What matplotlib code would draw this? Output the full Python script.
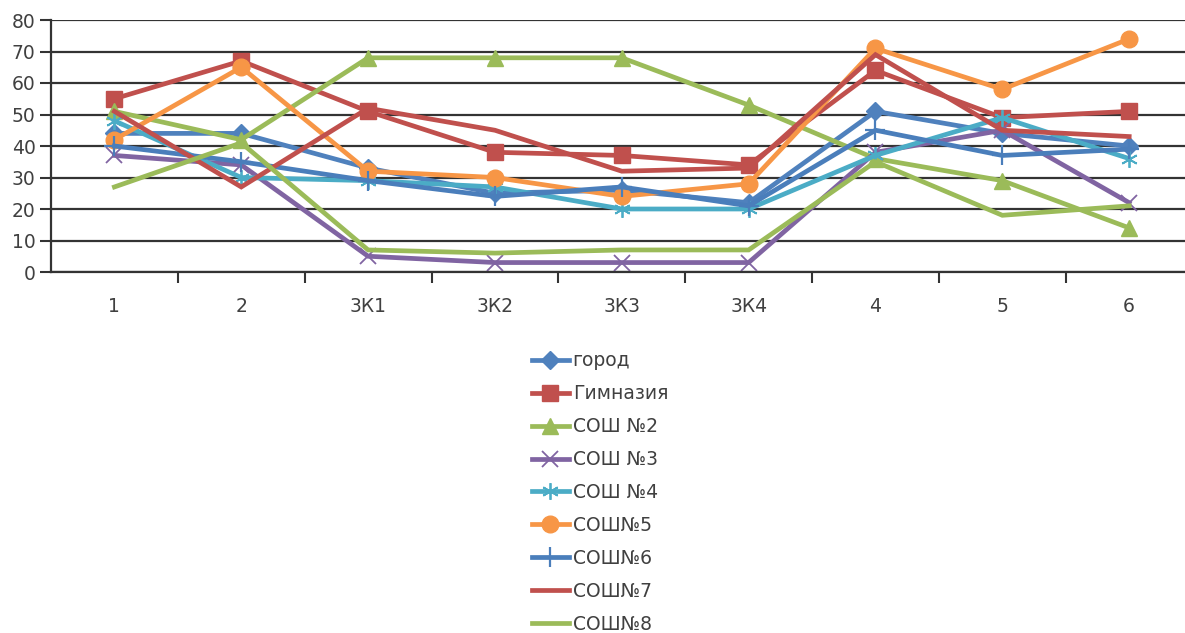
import matplotlib
matplotlib.use('Agg')
import matplotlib.pyplot as plt
import numpy as np

plt.rcParams['font.family'] = ['DejaVu Sans']

# categories and series values
categories = ['1', '2', '3К1', '3К2', '3К3', '3К4', '4', '5', '6']

gorod = [44, 44, 33, 25, 26, 22, 51, 44, 40]
gimnazia = [55, 67, 51, 38, 37, 34, 64, 49, 51]
sosh2 = [51, 42, 68, 68, 68, 53, 36, 29, 14]
sosh3 = [37, 34, 5, 3, 3, 3, 38, 45, 22]
sosh4 = [48, 30, 29, 27, 20, 20, 37, 49, 36]
sosh5 = [42, 65, 32, 30, 24, 28, 71, 58, 74]
sosh6 = [40, 35, 29, 24, 27, 21, 45, 37, 39]
sosh7 = [51, 27, 52, 45, 32, 33, 69, 45, 43]
sosh8 = [27, 41, 7, 6, 7, 7, 35, 18, 21]

labels = ['город', 'Гимназия', 'СОШ №2', 'СОШ №3', 'СОШ №4',
          'СОШ№5', 'СОШ№6', 'СОШ№7', 'СОШ№8']
series = [gorod, gimnazia, sosh2, sosh3, sosh4, sosh5, sosh6, sosh7, sosh8]

styles = [
    dict(color='#4F81BD', marker='D', markersize=9),
    dict(color='#C0504D', marker='s', markersize=11),
    dict(color='#9BBB59', marker='^', markersize=11),
    dict(color='#8064A2', marker='x', markersize=11, markeredgewidth=1.3),
    dict(color='#4BACC6', marker=(6, 2, 0), markersize=12, markeredgewidth=1.3),
    dict(color='#F79646', marker='o', markersize=12),
    dict(color='#4A7EBB', marker='+', markersize=14, markeredgewidth=1.6),
    dict(color='#C0504D', marker=None),
    dict(color='#9BBB59', marker=None),
]

fig = plt.figure(figsize=(11.85, 6.33), dpi=100)
ax = fig.add_axes([51 / 1185, 1 - 272 / 633, 1141.6 / 1185, 252 / 633])

x = np.arange(len(categories))
for vals, lab, st in zip(series, labels, styles):
    ax.plot(x, vals, label=lab, linewidth=3.4, solid_joinstyle='miter', **st)

ax.set_xlim(-0.5, len(categories) - 0.5)
ax.set_ylim(0, 80)
ax.set_yticks(np.arange(0, 81, 10))
ax.yaxis.grid(True, color='#333333', linewidth=1.6)
ax.set_axisbelow(True)

ax.set_xticks(x)
ax.set_xticklabels(categories)
ax.set_xticks(np.arange(0.5, len(categories) - 0.5, 1), minor=True)
ax.tick_params(axis='x', which='major', length=0, pad=18, labelsize=13.5, labelcolor='#404040')
ax.tick_params(axis='x', which='minor', length=8, width=1.5, color='#333333', direction='out')
ax.tick_params(axis='y', length=8, width=1.5, color='#333333', labelsize=13.5,
               labelcolor='#404040', pad=3)

for s in ['top', 'right']:
    ax.spines[s].set_visible(False)
for s in ['left', 'bottom']:
    ax.spines[s].set_color('#333333')
    ax.spines[s].set_linewidth(1.6)

# legend below the plot, last entry sits at the bottom edge like the original
fig.legend(loc='upper left', bbox_to_anchor=(524 / 1185, 1 - 344 / 633),
           frameon=False, fontsize=13.5, labelspacing=0.74, handlelength=2.0,
           handletextpad=0.2, labelcolor='#404040', borderaxespad=0)

plt.savefig('out.png', dpi=100)
